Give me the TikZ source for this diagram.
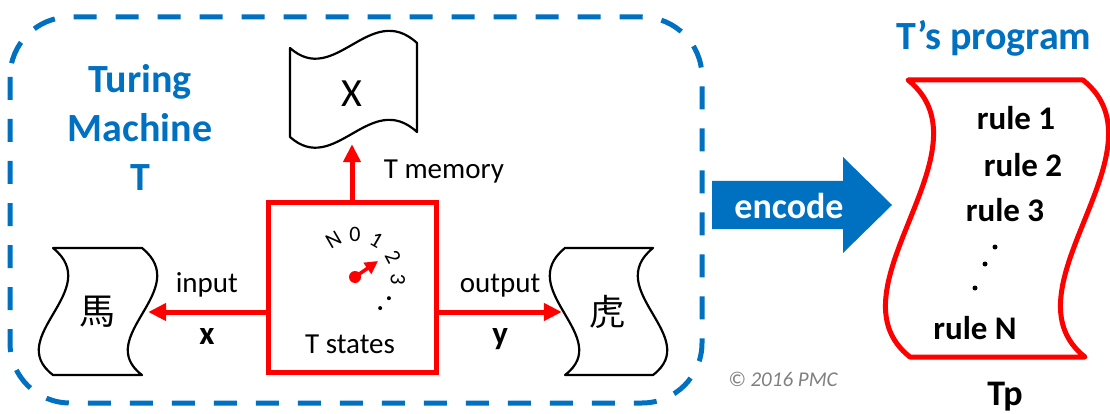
\documentclass[tikz,border=0pt]{standalone}
\usepackage{fontspec}
\setmainfont{Carlito}
\newfontfamily\cjkfont{Noto Sans CJK TC}
\usetikzlibrary{arrows.meta,positioning,calc}
\definecolor{tmblue}{HTML}{0070C0}
\definecolor{tmred}{HTML}{FF0000}

\begin{document}
\begin{tikzpicture}[
    x=1pt, y=-1pt,
    tape/.style={draw=black, line width=2.2pt, line join=round},
    redbox/.style={draw=tmred, line width=5pt},
    redarrow/.style={draw=tmred, line width=5pt, -{Triangle[length=18pt,width=17pt]}},
    needle/.style={draw=tmred, line width=3.5pt, -{Triangle[length=13pt,width=13pt]}},
    lbl/.style={font=\fontsize{29}{34}\selectfont},
    bold/.style={font=\fontsize{33}{38}\selectfont\bfseries},
    cjk/.style={font=\cjkfont\fontsize{36}{40}\selectfont},
    title/.style={font=\fontsize{40}{49}\selectfont\bfseries, text=tmblue, align=center},
    dial/.style={font=\fontsize{22}{24}\selectfont, inner sep=0pt}
]
\useasboundingbox (0,0) rectangle (1110,414);

% Machine border
\draw[tmblue, line width=5pt, dash pattern=on 23pt off 19pt, rounded corners=60pt] (10,17) rectangle (702,403);
\node[title] (tmtitle) at (140,127) {Turing\\Machine\\T};

% States box with dial
\node[redbox, minimum width=168pt, minimum height=170pt] (tm) at (352,287) {};
\node[lbl] (tstates) at (350,344) {T states};
\coordinate (dialc) at (355,277);
\foreach \s/\a in {N/120,0/90,1/60,2/28,3/-3}
    \node[dial, rotate=\a-90] (st-\s) at ($(dialc)+(\a:43pt)$) {\s};
\foreach \a in {-32,-51}
    \fill ($(dialc)+(\a:40pt)$) circle (2pt);
\fill[tmred] (dialc) circle (6pt);
\draw[needle] (dialc) -- ++(23pt,16pt);

% Memory tape
\draw[tape] (290,48) .. controls (335,88) and (370,0) .. (417,43) -- (417,132)
    .. controls (370,89) and (335,177) .. (290,137) -- cycle;
\node[font=\fontsize{40}{44}\selectfont, minimum height=100pt] (mem) at (352,94) {X};

% Input tape
\draw[tape] (53,248) -- (142,248) .. controls (194,290) and (92,337) .. (142,375)
    -- (53,375) .. controls (3,337) and (105,290) .. (53,248) -- cycle;
\node[cjk, minimum width=102pt] (inp) at (97,312) {馬};

% Output tape
\draw[tape] (565,248) -- (653,248) .. controls (601,290) and (703,337) .. (653,375)
    -- (565,375) .. controls (615,337) and (513,290) .. (565,248) -- cycle;
\node[cjk, minimum width=90pt] (outp) at (607,312) {虎};

% Arrows
\draw[redarrow] (tm) -- node[lbl, right=26pt] (memlbl) {T memory} (mem);
\draw[redarrow] (tm.west |- inp) -- node[lbl, above=9pt] (inlbl) {input}
    node[bold, below=11pt] (xlbl) {x} (inp);
\draw[redarrow] (tm.east |- outp) -- node[lbl, above=9pt] (outlbl) {output}
    node[bold, below=11pt] (ylbl) {y} (outp);

% Encode arrow
\fill[tmblue] (712,181) -- (843,181) -- (843,157) -- (892,205) -- (843,253) -- (843,229) -- (712,229) -- cycle;
\node[font=\fontsize{36}{40}\selectfont\bfseries, text=white] (enc) at (789,206) {encode};

% Program scroll
\node[title] (progtitle) at (994,38) {T's program};
\draw[redbox, line join=round] (908,80) -- (1083,80) .. controls (1170,150) and (1000,290) .. (1085,357)
    -- (910,357) .. controls (825,290) and (995,150) .. (908,80) -- cycle;
\node[bold] (rule1) at (1016,118) {rule 1};
\node[bold] (rule2) at (1023,165) {rule 2};
\node[bold] (rule3) at (1005,210) {rule 3};
\fill (995,247) circle (2.5pt) (985,264) circle (2.5pt) (975,288) circle (2.5pt);
\node[bold] (ruleN) at (975,328) {rule N};
\node[font=\fontsize{36}{40}\selectfont\bfseries] (tp) at (1005,397) {Tp};

\node[font=\fontsize{21}{24}\selectfont\itshape, text=gray] (copy) at (783,379) {© 2016 PMC};
\end{tikzpicture}
\end{document}
